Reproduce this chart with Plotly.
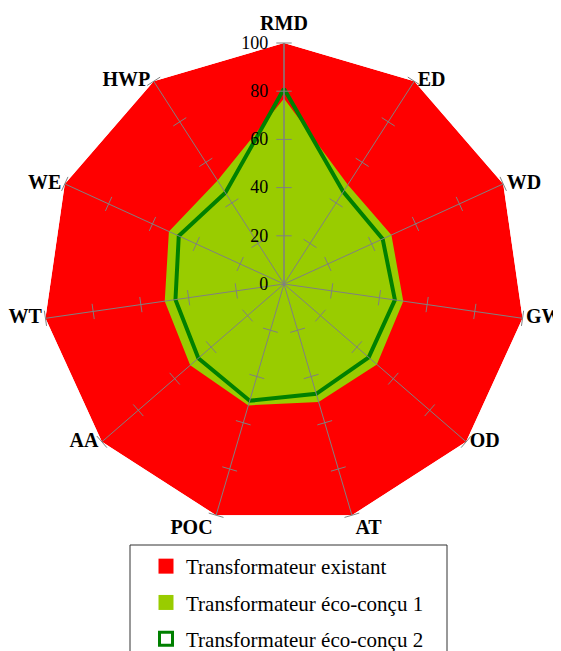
import plotly.graph_objects as go

# impact categories (clockwise from the top)
categories = ['RMD', 'ED', 'WD', 'GW', 'OD', 'AT', 'POC', 'AA', 'WT', 'WE', 'HWP']
existant = [100, 100, 100, 100, 100, 100, 100, 100, 100, 100, 100]
eco1 = [77, 49, 49, 50, 51, 51, 52.5, 51.5, 50, 52.5, 51]
eco2 = [81, 45.5, 45, 46.5, 46.5, 47.5, 50.5, 47, 45.5, 48, 45]
radial_ticks = [0, 20, 40, 60, 80, 100]

serif = 'Liberation Serif'
grey = '#808080'
names = ['Transformateur existant', 'Transformateur éco-conçu 1',
         'Transformateur éco-conçu 2']


def closed(vals):
    return list(vals) + [vals[0]]


fig = go.Figure()

fig.add_trace(go.Scatterpolar(r=closed(existant), theta=closed(categories),
                              fill='toself', fillcolor='#FF0000',
                              line=dict(color='#FF0000', width=0),
                              mode='lines', showlegend=False))
fig.add_trace(go.Scatterpolar(r=closed(eco1), theta=closed(categories),
                              fill='toself', fillcolor='#99CC00',
                              line=dict(color='#99CC00', width=0),
                              mode='lines', showlegend=False))
fig.add_trace(go.Scatterpolar(r=closed(eco2), theta=closed(categories),
                              line=dict(color='#008000', width=4),
                              mode='lines', showlegend=False))

# spokes on top of the areas
spoke_r, spoke_theta = [], []
for cat in categories:
    spoke_r += [0, 100, None]
    spoke_theta += [cat, cat, None]
fig.add_trace(go.Scatterpolar(r=spoke_r, theta=spoke_theta, mode='lines',
                              line=dict(color=grey, width=1),
                              showlegend=False, hoverinfo='skip'))

# little cross ticks on every spoke
tick_r, tick_theta, tick_angle = [], [], []
for i, cat in enumerate(categories):
    for t in radial_ticks[1:]:
        tick_r.append(t)
        tick_theta.append(cat)
        tick_angle.append(i * 360 / len(categories))
fig.add_trace(go.Scatterpolar(r=tick_r, theta=tick_theta, mode='markers',
                              marker=dict(symbol='line-ew', size=11,
                                          angle=tick_angle,
                                          line=dict(color=grey, width=1)),
                              showlegend=False, hoverinfo='skip'))

# category labels just outside the vertices (invisible markers push text out)
label_pos = ['top center', 'middle right', 'middle right', 'middle right',
             'middle right', 'bottom right', 'bottom left', 'middle left',
             'middle left', 'middle left', 'middle left']
label_pad = [12, 4, 4, 4, 4, 4, 4, 4, 4, 4, 4]
fig.add_trace(go.Scatterpolar(r=existant, theta=categories, mode='markers+text',
                              text=categories, textposition=label_pos,
                              marker=dict(size=label_pad, opacity=0),
                              textfont=dict(family=serif, size=20,
                                            weight='bold', color='black'),
                              cliponaxis=False, showlegend=False,
                              hoverinfo='skip'))

# legend entries
fig.add_trace(go.Scatterpolar(r=[None], theta=[None], mode='markers', name=names[0],
                              marker=dict(symbol='square', size=15, color='#FF0000'),
                              legendgroup='a'))
fig.add_trace(go.Scatterpolar(r=[None], theta=[None], mode='markers', name=names[1],
                              marker=dict(symbol='square', size=15, color='#99CC00'),
                              legendgroup='b'))
fig.add_trace(go.Scatterpolar(r=[None], theta=[None], mode='markers', name=names[2],
                              marker=dict(symbol='square-open', size=13, color='#008000',
                                          line=dict(width=3, color='#008000')),
                              legendgroup='c'))

fig.update_layout(
    width=561, height=651,
    margin=dict(l=0, r=0, t=0, b=0),
    paper_bgcolor='white',
    plot_bgcolor='white',
    font=dict(family=serif, color='black'),
    polar=dict(
        domain=dict(x=[35 / 561, 517 / 561], y=[134 / 651, 616 / 651]),
        bgcolor='white',
        gridshape='linear',
        radialaxis=dict(range=[0, 100], tickvals=radial_ticks,
                        angle=90, side='counterclockwise', tickangle=90,
                        showgrid=False, showline=True, linecolor=grey,
                        ticks='outside', ticklen=9, tickcolor='rgba(0,0,0,0)',
                        tickfont=dict(family=serif, size=18)),
        angularaxis=dict(direction='clockwise', rotation=90,
                         showgrid=False, showline=False, ticks='',
                         showticklabels=False),
    ),
    legend=dict(x=138 / 561, y=113 / 651, xanchor='left', yanchor='top',
                borderwidth=0, bgcolor='rgba(0,0,0,0)',
                font=dict(family=serif, size=21), tracegroupgap=6,
                traceorder='grouped'),
    shapes=[dict(type='rect', xref='paper', yref='paper',
                 x0=122 / 561, x1=439 / 561, y0=-0.05, y1=114 / 651,
                 line=dict(color='#333333', width=1), layer='below')],
)

fig.write_html("out.html")
